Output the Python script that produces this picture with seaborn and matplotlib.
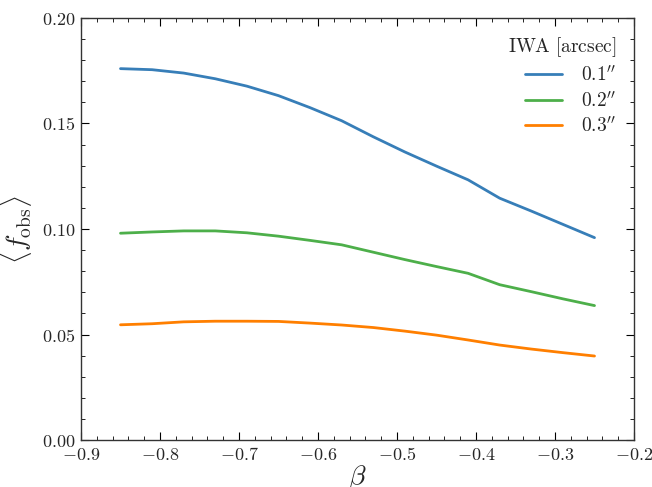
import numpy as np
import pandas as pd
import matplotlib
matplotlib.use("Agg")
import matplotlib.pyplot as plt
from matplotlib.ticker import MultipleLocator, FuncFormatter
import seaborn as sns

beta = [-0.85, -0.81, -0.77, -0.73, -0.69, -0.65, -0.61, -0.57,
        -0.53, -0.49, -0.45, -0.41, -0.37, -0.33, -0.29, -0.25]
f_01 = [0.1760, 0.1755, 0.1739, 0.1712, 0.1677, 0.1632, 0.1575, 0.1513,
        0.1437, 0.1365, 0.1298, 0.1233, 0.1146, 0.1085, 0.1022, 0.0959]
f_02 = [0.0980, 0.0986, 0.0991, 0.0991, 0.0982, 0.0966, 0.0946, 0.0925,
        0.0890, 0.0855, 0.0822, 0.0790, 0.0736, 0.0703, 0.0669, 0.0637]
f_03 = [0.0546, 0.0551, 0.0560, 0.0563, 0.0563, 0.0562, 0.0554, 0.0545,
        0.0533, 0.0516, 0.0497, 0.0474, 0.0450, 0.0431, 0.0414, 0.0398]
iwa_labels = [r"$0.1^{\prime\prime}$", r"$0.2^{\prime\prime}$", r"$0.3^{\prime\prime}$"]
colors = ["#377eb8", "#4daf4a", "#ff7f00"]

rows = []
for lab, series in zip(iwa_labels, [f_01, f_02, f_03]):
    for b, v in zip(beta, series):
        rows.append({"beta": b, "f": v, "IWA": lab})
df = pd.DataFrame(rows)

sns.set_style("ticks")
plt.rcParams["font.family"] = ["DejaVu Serif"]
plt.rcParams["mathtext.fontset"] = "cm"

fig = plt.figure(figsize=(6.52, 4.87), dpi=100)
ax = fig.add_axes([81/652, 1-440/487, (634-81)/652, (440-18)/487])

sns.lineplot(data=df, x="beta", y="f", hue="IWA", hue_order=iwa_labels,
             palette=colors, linewidth=2, ax=ax, legend=True)

ax.set_xlim(-0.9, -0.2)
ax.set_ylim(0.0, 0.2)
ax.xaxis.set_major_locator(MultipleLocator(0.1))
ax.xaxis.set_minor_locator(MultipleLocator(0.02))
ax.yaxis.set_major_locator(MultipleLocator(0.05))
ax.yaxis.set_minor_locator(MultipleLocator(0.01))
ax.xaxis.set_major_formatter(FuncFormatter(lambda v, p: r"$%.1f$" % v))
ax.yaxis.set_major_formatter(FuncFormatter(lambda v, p: r"$%.2f$" % v))
ax.tick_params(which="both", direction="in", top=True, right=True,
               color="black", labelsize=13)
ax.tick_params(which="major", length=6, width=0.8, pad=4)
ax.tick_params(which="minor", length=3, width=0.6)
for s in ax.spines.values():
    s.set_color("#333333")
    s.set_linewidth(1.0)

ax.set_xlabel(r"$\beta$", fontsize=20, labelpad=0)
ax.set_ylabel(r"$\langle f_{\rm obs}\rangle$", fontsize=20, labelpad=6)

leg = ax.legend(title=r"$\rm IWA\ [arcsec]$", loc="upper right", frameon=False,
                fontsize=14, title_fontsize=14, handlelength=1.9,
                handletextpad=1.0, labelspacing=0.3, borderaxespad=0.5)
leg._legend_box.align = "right"

fig.savefig("out.png", dpi=100)
